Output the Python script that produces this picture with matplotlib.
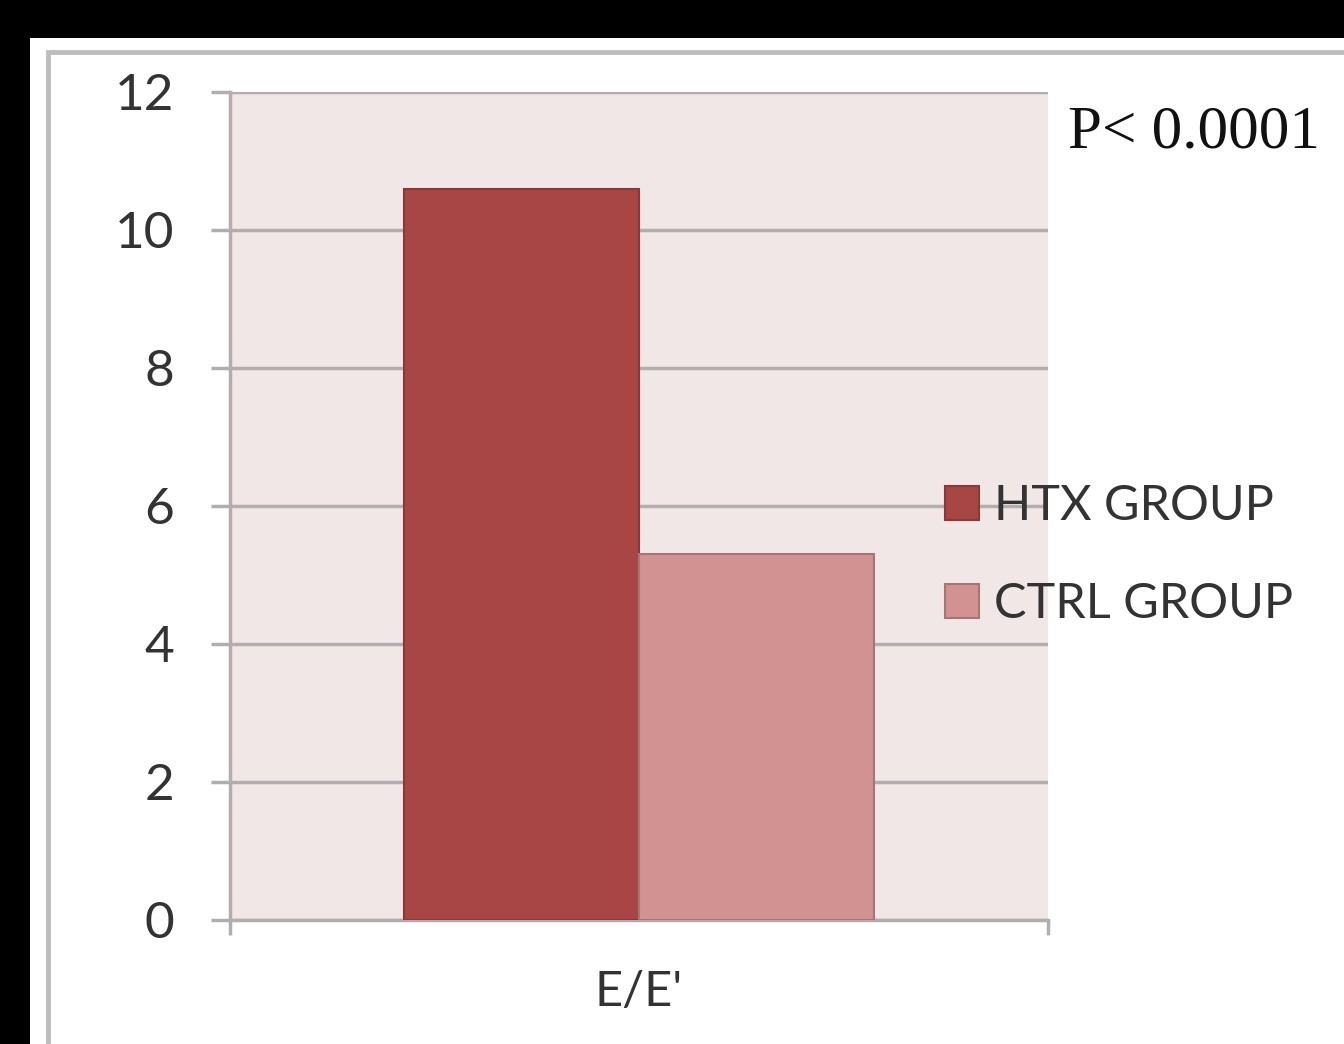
import matplotlib
matplotlib.use("Agg")
import matplotlib.pyplot as plt
from matplotlib.patches import Rectangle

# Data
category = ["E/E'"]
groups = ["HTX GROUP", "CTRL GROUP"]
values = [10.6, 5.3]
colors = ["#A84646", "#D39292"]
edges = ["#8A3838", "#A87474"]
y_ticks = [0, 2, 4, 6, 8, 10, 12]
p_text = "P< 0.0001"

W, H = 1344, 1044
fig = plt.figure(figsize=(W / 100, H / 100), dpi=100)
fig.patch.set_facecolor("black")

def fx(px):
    return px / W

def fy(py):
    return 1 - py / H

# white slide panel with a gray chart border
fig.patches.append(Rectangle((fx(30), 0), 1, fy(38), transform=fig.transFigure,
                             facecolor="white", edgecolor="none", zorder=-3))
fig.patches.append(Rectangle((fx(48), -0.05), 1, fy(52) + 0.05, transform=fig.transFigure,
                             facecolor="white", edgecolor="#BDBDBD", linewidth=3.5, zorder=-2))

ax = fig.add_axes([fx(230), fy(920), fx(1048) - fx(230), fy(92) - fy(920)])
ax.set_facecolor("#F2E7E7")

grid_c = "#B3AEAE"
width = 0.2875
offsets = [-width / 2, width / 2]
for name, v, c, e, off in zip(groups, values, colors, edges, offsets):
    ax.bar(off, v, width=width, color=c, edgecolor=e, linewidth=1.5, label=name, zorder=3)

ax.set_xlim(-0.5, 0.5)
ax.set_ylim(0, 12)
ax.set_yticks(y_ticks)
ax.set_yticklabels([str(t) for t in y_ticks], fontsize=37, family="Lato", color="#333333")
ax.yaxis.grid(True, color=grid_c, linewidth=2.5, zorder=1)
ax.set_axisbelow(True)
ax.tick_params(axis="y", direction="out", length=14, width=2.5, color=grid_c, pad=26)

ax.set_xticks([0])
ax.set_xticklabels(category, fontsize=35, family="Lato", color="#333333")
ax.set_xticks([-0.5, 0.5], minor=True)
ax.tick_params(axis="x", which="major", length=0, pad=36)
ax.tick_params(axis="x", which="minor", direction="out", length=11, width=2.5, color=grid_c)

ax.spines["right"].set_visible(False)
ax.spines["top"].set_visible(False)
ax.spines["left"].set_color(grid_c)
ax.spines["left"].set_linewidth(2.5)
ax.spines["bottom"].set_color(grid_c)
ax.spines["bottom"].set_linewidth(2.5)

leg = ax.legend(loc="upper left", bbox_to_anchor=(fx(945), fy(484)), bbox_transform=fig.transFigure,
                frameon=False, prop={"family": "Lato", "size": 35},
                handlelength=0.7, handleheight=0.7, handletextpad=0.3,
                labelspacing=1.12, borderpad=0, borderaxespad=0)
for t in leg.get_texts():
    t.set_color("#333333")

fig.text(fx(1068), fy(148), p_text, family="Liberation Serif", fontsize=44,
         color="#111111", ha="left", va="baseline")

fig.savefig("out.png", dpi=100, facecolor=fig.get_facecolor())
